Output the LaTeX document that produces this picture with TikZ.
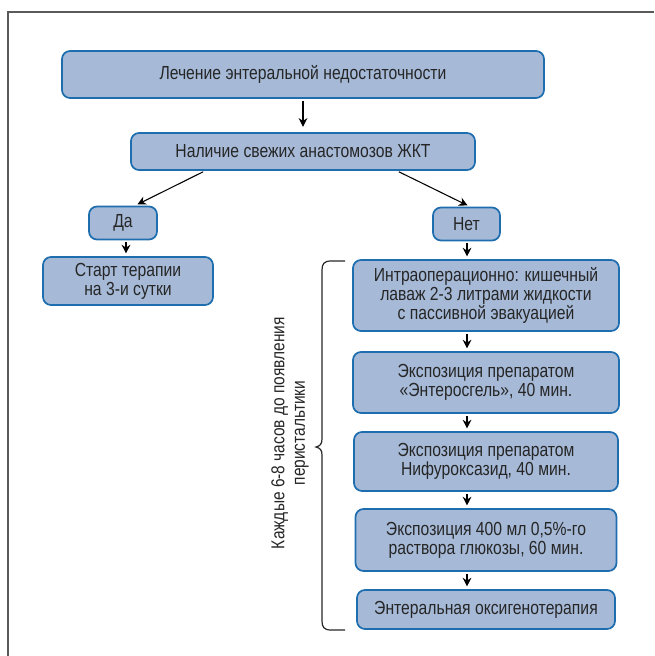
\documentclass[tikz,border=0pt]{standalone}
\usepackage{fontspec}
\setmainfont{Liberation Sans}[FakeStretch=0.83]
\usetikzlibrary{arrows.meta,calc}
\definecolor{boxfill}{HTML}{A6BAD8}
\definecolor{boxline}{HTML}{1E6EAF}
\definecolor{txt}{HTML}{262626}
\definecolor{frame}{HTML}{5A5A5A}
\tikzset{
  flowbox/.style={draw=boxline, fill=boxfill, line width=1.3pt, rounded corners=6pt,
    inner sep=0pt, align=center, text=txt, font=\fontsize{14.2}{14.2}\selectfont},
  arr/.style={draw=black, line width=0.8pt, -{Stealth[length=6.5pt,width=6.5pt]},
    shorten <=1.5pt, shorten >=2pt}
}
\begin{document}
\begin{tikzpicture}[x=0.75pt,y=-0.75pt]
\useasboundingbox (0,0) rectangle (654,656);
% outer frame
\draw[frame, line width=1.8pt] (8,656) -- (8,12) -- (654,12);

\node[flowbox, minimum width=482*0.75pt, minimum height=47*0.75pt] (top) at (303,74.5)
  {Лечение энтеральной недостаточности};
\node[flowbox, minimum width=344*0.75pt, minimum height=37*0.75pt] (n2) at (303,151.5)
  {Наличие свежих анастомозов ЖКТ};
\node[flowbox, minimum width=68*0.75pt, minimum height=33*0.75pt] (da) at (123,223)
  {Да};
\node[flowbox, minimum width=67*0.75pt, minimum height=33*0.75pt] (net) at (466.5,224)
  {Нет};
\node[flowbox, minimum width=170*0.75pt, minimum height=48*0.75pt] (start) at (128,281)
  {Старт терапии\\на 3-и сутки};
\node[flowbox, minimum width=266*0.75pt, minimum height=71*0.75pt] (i1) at (486,295.5)
  {Интраоперационно: кишечный\\лаваж 2-3 литрами жидкости\\с пассивной эвакуацией};
\node[flowbox, minimum width=266*0.75pt, minimum height=61*0.75pt] (i2) at (486,382.5)
  {Экспозиция препаратом\\«Энтеросгель», 40 мин.};
\node[flowbox, minimum width=264*0.75pt, minimum height=59*0.75pt] (i3) at (486,461.5)
  {Экспозиция препаратом\\Нифуроксазид, 40 мин.};
\node[flowbox, minimum width=261*0.75pt, minimum height=62*0.75pt] (i4) at (486,540)
  {Экспозиция 400 мл 0,5\%-го\\раствора глюкозы, 60 мин.};
\node[flowbox, minimum width=258*0.75pt, minimum height=39*0.75pt] (i5) at (486,609.5)
  {Энтеральная оксигенотерапия};

% connectors
\draw[arr, shorten >=4pt] (top.south) -- (n2.north);
\draw[arr] ($(n2.south)+(-98,0)$) -- ($(da.north)+(12,0)$);
\draw[arr] ($(n2.south)+(94,0)$) -- ($(net.north)+(3.5,0)$);
\draw[arr] ($(da.south)+(3,0)$) -- ($(start.north)+(-2,0)$);
\draw[arr] ($(net.south)+(0.5,0)$) -- ($(i1.north)+(-19,0)$);
\draw[arr] ($(i1.south)+(-19,0)$) -- ($(i2.north)+(-19,0)$);
\draw[arr] ($(i2.south)+(-19,0)$) -- ($(i3.north)+(-19,0)$);
\draw[arr] ($(i3.south)+(-19,0)$) -- ($(i4.north)+(-19,0)$);
\draw[arr] ($(i4.south)+(-19,0)$) -- ($(i5.north)+(-19,0)$);

% brace
\coordinate (bt) at (345,261);
\coordinate (bb) at (345,630);
\draw[txt, line width=0.9pt] (bt) -- (331,261) .. controls (324,261) and (322,264) .. (322,270)
  -- (322,439) .. controls (322,444) and (320,446) .. (316,447)
  .. controls (320,448) and (322,450) .. (322,455)
  -- (322,621) .. controls (322,627) and (324,630) .. (331,630) -- (bb);

\node[rotate=90, align=center, text=txt, font=\fontsize{14}{15.5}\selectfont] (lbl) at (290,433)
  {Каждые 6-8 часов до появления\\перистальтики};
\end{tikzpicture}
\end{document}
